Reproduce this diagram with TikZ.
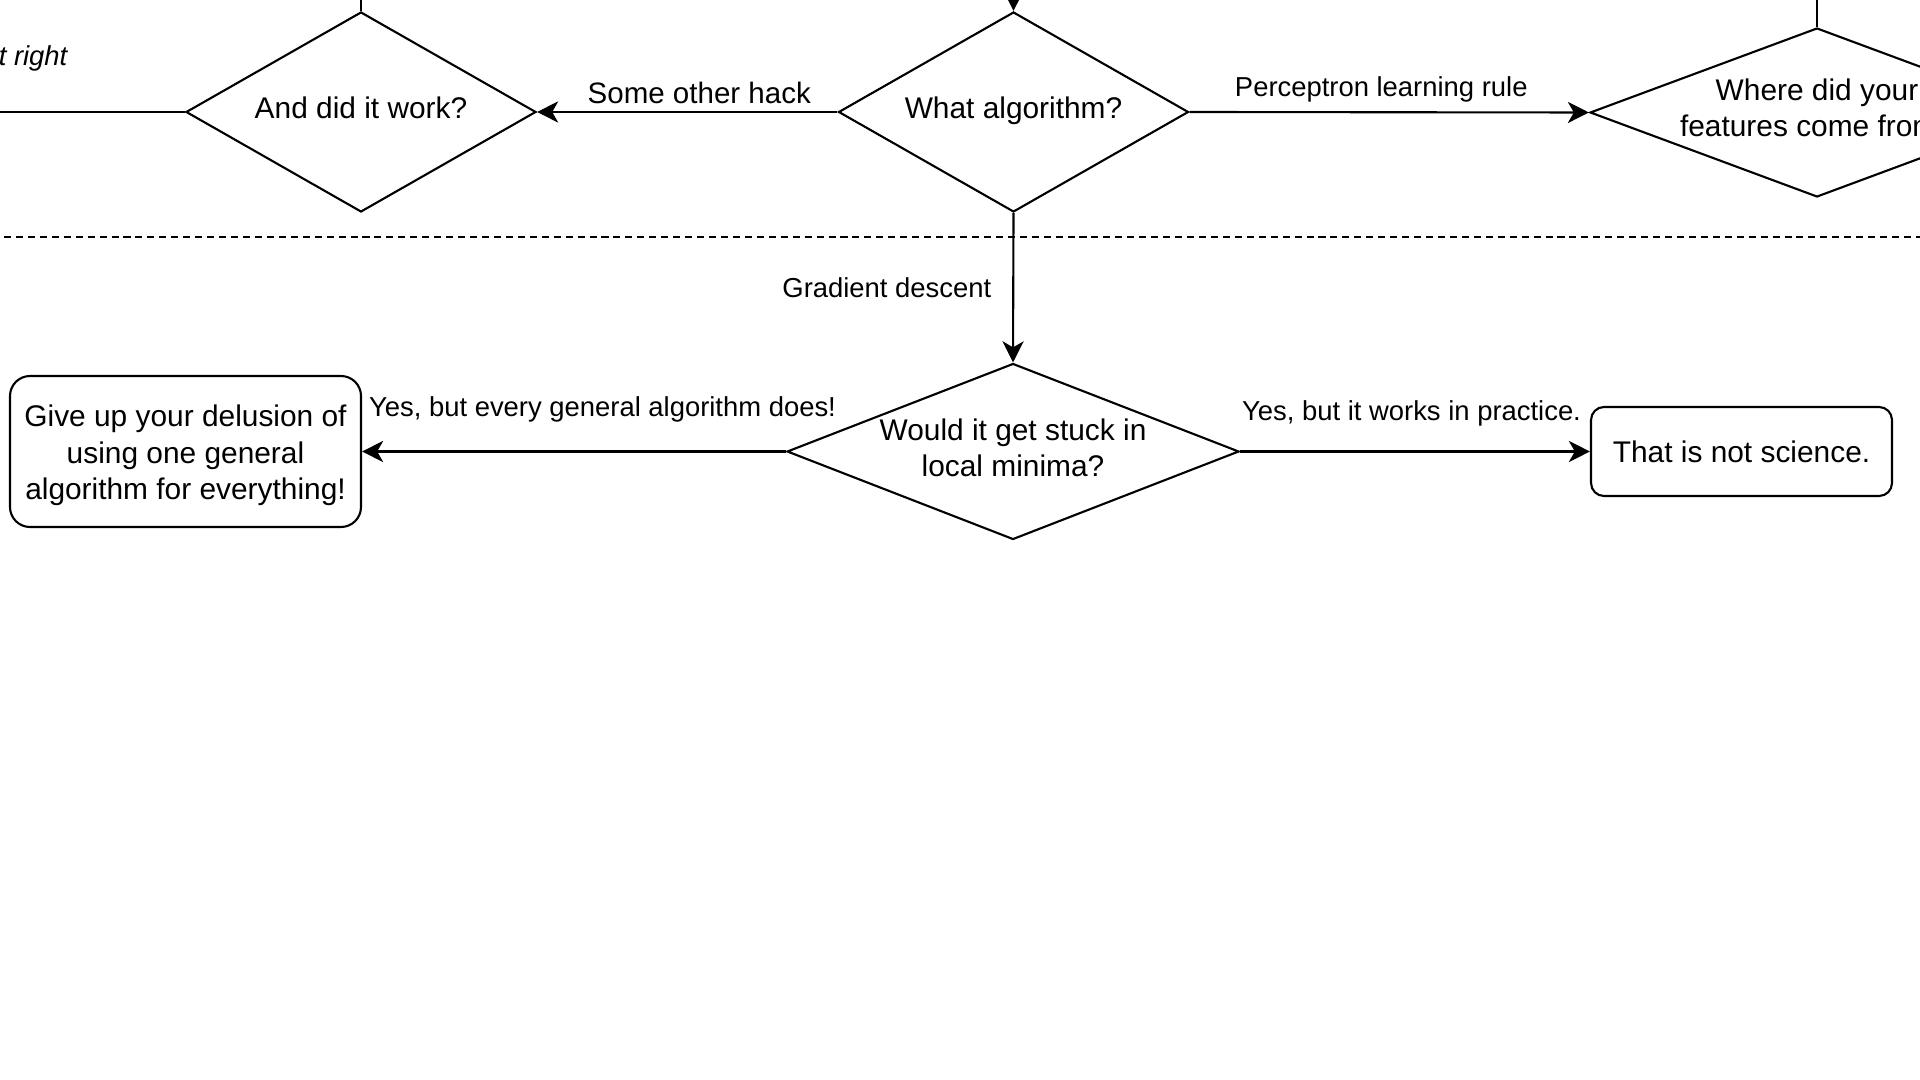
\documentclass[tikz,border=0pt]{standalone}
\usepackage{fontspec}
\setsansfont{Liberation Sans}
\usetikzlibrary{positioning, shapes, arrows.meta}

\begin{document}
\begin{tikzpicture}[font=\sffamily\fontsize{8.5}{10.4}\selectfont, line width=0.6pt,
    >={Stealth[length=6pt,width=6pt,inset=1.7pt]},
    decision/.style={diamond, draw, align=center, inner sep=0pt},
    outcome/.style={rectangle, draw, align=center, inner sep=0pt},
    edgelabel/.style={font=\sffamily\fontsize{7.8}{9.4}\selectfont, inner sep=0pt}]
    \useasboundingbox (0,0) rectangle (19.2,-10.8);
    \node[decision, minimum width=3.5cm, minimum height=2cm, aspect=1.75, text depth=0.08cm] (work) at (3.61,-1.12) {And did it work?};
    \node[decision, minimum width=3.5cm, minimum height=2cm, aspect=1.75, text depth=0.08cm] (algo) at (10.135,-1.12) {What algorithm?};
    \node[decision, minimum width=4.54cm, minimum height=1.69cm, aspect=2.68, text depth=0.1cm, inner xsep=-0.05cm] (where) at (18.17,-1.125) {Where did your\\features come from?};
    \node[decision, minimum width=4.52cm, minimum height=1.76cm, aspect=2.57, text depth=0.08cm] (would) at (10.13,-4.515) {Would it get stuck in\\local minima?};
    \node[outcome, rounded corners=0.2cm, minimum width=3.51cm, minimum height=1.51cm, text height=1.03cm] (giveup) at (1.855,-4.515) {Give up your delusion of\\using one general\\algorithm for everything!};
    \node[outcome, rounded corners=0.13cm, minimum width=3.01cm, minimum height=0.89cm] (science) at (17.415,-4.515) {That is not science.};
    \coordinate (worktop) at (3.61,0.3);
    \coordinate (algotop) at (10.135,0.3);
    \coordinate (wheretop) at (18.17,0.3);
    \coordinate (leftend) at (0,-1.12);
    \draw (work.north) -- (worktop);
    \draw[->] (algotop) -- (algo.north);
    \draw (where.north) -- (wheretop);
    \draw (work.west) -- node[edgelabel, pos=0.63, above left=0.4cm and 0cm] {\itshape t right} (leftend);
    \draw[->] (algo.west) -- node[edgelabel, pos=0.46, above=0.07cm, font=\sffamily\fontsize{8.4}{10}\selectfont] {Some other hack} (work.east);
    \draw[->] (algo.east) -- node[edgelabel, pos=0.48, above=0.09cm] {Perceptron learning rule} (where.west);
    \draw[->] (algo.south) -- node[edgelabel, left=0.21cm] {Gradient descent} (would.north);
    \draw[->] (would.west) -- node[edgelabel, pos=1, above right=0.28cm and 0.06cm] {Yes, but every general algorithm does!} (giveup.east);
    \draw[->] (would.east) -- node[edgelabel, pos=0.49, above=0.24cm] {Yes, but it works in practice.} (science.west);
    \draw[dash pattern=on 2pt off 1.4pt] (0.04,-2.37) -- (19.2,-2.37);
\end{tikzpicture}
\end{document}
